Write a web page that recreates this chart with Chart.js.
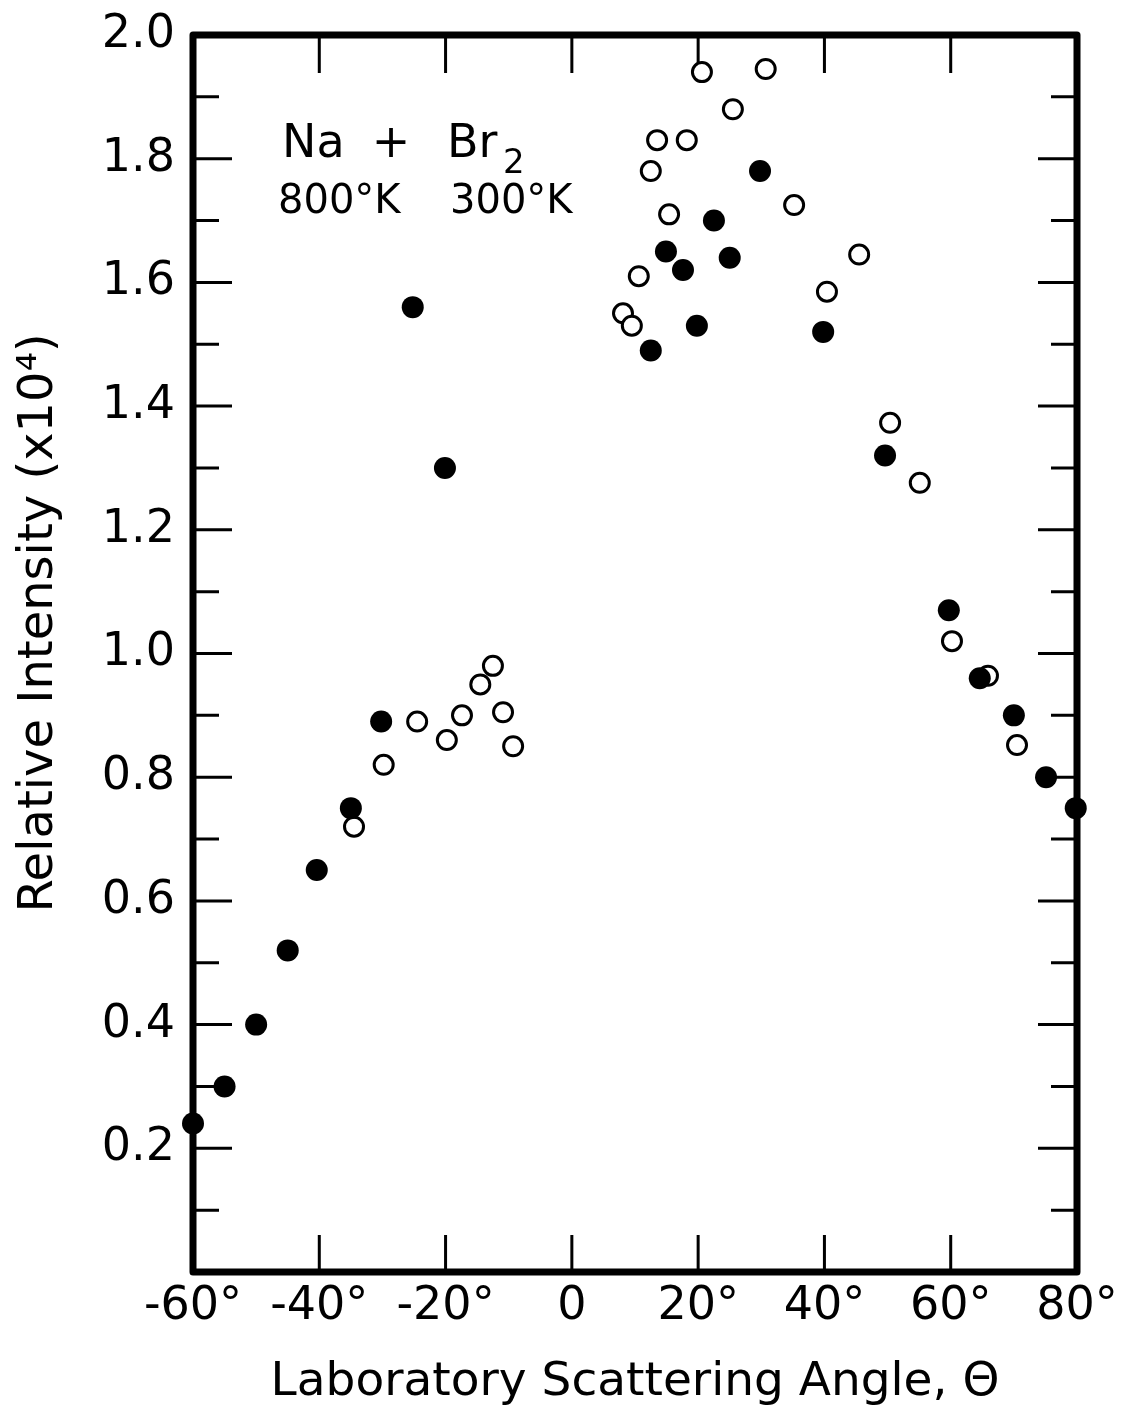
<!DOCTYPE html>
<html lang="en">
<head>
  <meta charset="UTF-8" />
  <title>Na + Br2 Laboratory Angular Distribution</title>
  <script src="https://cdn.jsdelivr.net/npm/chart.js"></script>
  <style>
    body {
      margin: 0;
      padding: 0;
      background: #ffffff;
    }

    .wrap {
      width: 1136px;
      height: 1407px;
      position: relative;
    }
  </style>
</head>
<body>
  <div class="wrap">
    <canvas id="scatterChart"></canvas>
  </div>

  <script>
    // Na beam 800 K (filled circles)
    const filledAngle = [-60, -55, -50, -45, -40.4, -35, -30.2, -25.2, -20.1, 12.5, 14.9, 17.6, 19.8, 22.5, 25, 29.8, 39.8, 49.6, 59.7, 64.6, 70, 75.1, 79.8];
    const filledIntensity = [0.24, 0.30, 0.40, 0.52, 0.65, 0.75, 0.89, 1.56, 1.30, 1.49, 1.65, 1.62, 1.53, 1.70, 1.64, 1.78, 1.52, 1.32, 1.07, 0.96, 0.90, 0.80, 0.75];

    // Br2 300 K (open circles)
    const openAngle = [-34.5, -29.8, -24.5, -19.8, -17.4, -14.5, -12.5, -10.9, -9.3, 8.1, 9.5, 10.6, 12.5, 13.5, 15.4, 18.2, 20.6, 25.5, 30.7, 35.2, 40.4, 45.5, 50.4, 55.1, 60.2, 65.9, 70.5];
    const openIntensity = [0.72, 0.82, 0.89, 0.86, 0.90, 0.95, 0.98, 0.905, 0.85, 1.55, 1.53, 1.61, 1.78, 1.83, 1.71, 1.83, 1.94, 1.88, 1.945, 1.725, 1.585, 1.645, 1.373, 1.276, 1.02, 0.964, 0.852];

    // axis ticks
    const xTicks = [-60, -40, -20, 0, 20, 40, 60, 80];
    const xFrameTicks = [-40, -20, 0, 20, 40, 60];
    const yMajorTicks = [0.2, 0.4, 0.6, 0.8, 1.0, 1.2, 1.4, 1.6, 1.8];
    const yMinorTicks = [0.1, 0.3, 0.5, 0.7, 0.9, 1.1, 1.3, 1.5, 1.7, 1.9];

    const FONT = '"DejaVu Sans", sans-serif';

    const toPoints = (xs, ys) => xs.map((x, i) => ({ x: x, y: ys[i] }));

    // frame with inward ticks on all four sides
    const framePlugin = {
      id: 'frame',
      beforeDatasetsDraw(chart) {
        const { ctx, chartArea: a, scales } = chart;
        const xs = scales.x, ys = scales.y;
        ctx.save();
        ctx.strokeStyle = '#000';
        ctx.lineCap = 'butt';

        ctx.lineWidth = 3;
        ctx.beginPath();
        yMajorTicks.forEach(v => {
          const py = ys.getPixelForValue(v);
          ctx.moveTo(a.left, py); ctx.lineTo(a.left + 39, py);
          ctx.moveTo(a.right, py); ctx.lineTo(a.right - 39, py);
        });
        yMinorTicks.forEach(v => {
          const py = ys.getPixelForValue(v);
          ctx.moveTo(a.left, py); ctx.lineTo(a.left + 26, py);
          ctx.moveTo(a.right, py); ctx.lineTo(a.right - 26, py);
        });
        xFrameTicks.forEach(v => {
          const px = xs.getPixelForValue(v);
          ctx.moveTo(px, a.bottom); ctx.lineTo(px, a.bottom - 37);
          ctx.moveTo(px, a.top); ctx.lineTo(px, a.top + 38);
        });
        ctx.stroke();

        ctx.lineWidth = 7;
        ctx.lineJoin = 'round';
        ctx.strokeRect(a.left, a.top, a.right - a.left, a.bottom - a.top);
        ctx.restore();
      }
    };

    // reaction label in the upper left
    const labelPlugin = {
      id: 'reactionLabel',
      afterDraw(chart) {
        const { ctx } = chart;
        ctx.save();
        ctx.fillStyle = '#000';
        ctx.textBaseline = 'alphabetic';
        ctx.font = '46px ' + FONT;
        ctx.textAlign = 'left';
        ctx.fillText('Na', 282, 157);
        ctx.textAlign = 'center';
        ctx.fillText('+', 391, 157);
        ctx.textAlign = 'left';
        ctx.fillText('Br', 447, 157);
        ctx.font = '34px ' + FONT;
        ctx.fillText('2', 503, 173);
        ctx.font = '40px ' + FONT;
        ctx.fillText('800°K', 278, 213);
        ctx.fillText('300°K', 450, 213);
        ctx.restore();
      }
    };

    const ctx = document.getElementById('scatterChart').getContext('2d');
    new Chart(ctx, {
      type: 'scatter',
      data: {
        datasets: [
          {
            label: 'Na 800°K',
            data: toPoints(filledAngle, filledIntensity),
            pointRadius: 11,
            pointHoverRadius: 11,
            pointBackgroundColor: '#000',
            pointBorderWidth: 0,
            clip: false
          },
          {
            label: 'Br2 300°K',
            data: toPoints(openAngle, openIntensity),
            pointRadius: 9.5,
            pointHoverRadius: 9.5,
            pointBackgroundColor: '#fff',
            pointBorderColor: '#000',
            pointBorderWidth: 3,
            clip: false
          }
        ]
      },
      options: {
        responsive: true,
        maintainAspectRatio: false,
        animation: false,
        layout: {
          autoPadding: false,
          padding: { top: 35, right: 59, left: 0, bottom: 0 }
        },
        plugins: {
          legend: { display: false },
          tooltip: { enabled: false }
        },
        scales: {
          x: {
            type: 'linear',
            position: 'bottom',
            min: -60,
            max: 80,
            afterFit: s => { s.height = 135; },
            afterBuildTicks: s => { s.ticks = xTicks.map(v => ({ value: v })); },
            grid: { display: false, drawTicks: false },
            border: { display: false },
            ticks: {
              autoSkip: false,
              maxRotation: 0,
              padding: 7,
              color: '#000',
              font: { family: FONT, size: 46 },
              callback: v => (v === 0 ? '0' : v + '°')
            },
            title: {
              display: true,
              text: 'Laboratory Scattering Angle, Θ',
              color: '#000',
              font: { family: FONT, size: 47 },
              padding: { top: 0, bottom: -4 }
            }
          },
          y: {
            type: 'linear',
            position: 'left',
            min: 0,
            max: 2.0,
            afterFit: s => { s.width = 193; },
            afterBuildTicks: s => { s.ticks = yMajorTicks.concat([2.0]).map(v => ({ value: v })); },
            grid: { display: false, drawTicks: false },
            border: { display: false },
            ticks: {
              autoSkip: false,
              padding: 18,
              color: '#000',
              font: { family: FONT, size: 46, lineHeight: 0.7 },
              callback: v => v.toFixed(1)
            },
            title: {
              display: true,
              text: '    Relative Intensity (x10⁴)',
              color: '#000',
              font: { family: FONT, size: 48 },
              padding: { top: 11, bottom: 0 }
            }
          }
        }
      },
      plugins: [framePlugin, labelPlugin]
    });
  </script>
</body>
</html>
